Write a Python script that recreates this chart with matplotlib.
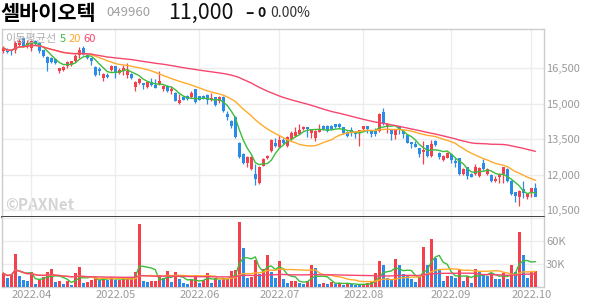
import numpy as np
import pandas as pd
import matplotlib
matplotlib.use("Agg")
import matplotlib.pyplot as plt
from matplotlib.ticker import FuncFormatter

plt.rcParams['font.family'] = ['Noto Sans CJK KR', 'DejaVu Sans']

# --- colours ---
UP = "#f2414d"
DOWN = "#2b8be8"
MA_COLORS = ["#3cbd3c", "#ffaa2b", "#f54670"]
GRID = "#ececec"
TXT = "#9a9a9a"

# --- data ---
holidays = ["2022-05-05", "2022-06-01", "2022-06-06", "2022-08-15",
            "2022-09-09", "2022-09-12", "2022-10-03"]
dates = pd.bdate_range("2022-03-23", "2022-10-05")
dates = dates[~dates.isin(pd.to_datetime(holidays))]

opens = [17230, 17300, 17300, 17300, 17500, 17790, 17440, 17370, 17650, 17580,
         17290, 16990, 16940, 16900, 16380, 16450, 16590, 16660, 16800, 17080,
         17370, 17080, 16940, 16550, 16490, 16100, 16240, 16450, 16590, 16310,
         16380, 16240, 16270, 15720, 15890, 15890, 15720, 15920, 15790, 15820,
         15610, 15750, 15540, 15470, 15040, 15300, 15350, 15280, 15610, 15320,
         15320, 15390, 15140, 15280, 15110, 15300, 14560, 14250, 14460, 13350,
         12860, 12510, 12250, 12040, 11660, 12370, 12720, 13000, 13350, 13170,
         13450, 13210, 13490, 13630, 13730, 13940, 14010, 13780, 13560, 13820,
         14060, 14060, 14060, 14130, 14160, 14010, 13820, 13870, 13820, 13820,
         13920, 14040, 13850, 13850, 13840, 14660, 14060, 13920, 13680, 14010,
         13850, 13680, 13390, 13280, 13110, 12970, 13250, 12790, 13420, 12930,
         12610, 12720, 12890, 12580, 12690, 12020, 12300, 12020, 12020, 11940,
         12470, 12020, 11990, 11710, 11880, 12020, 12230, 11740, 11240, 11030,
         11380, 11030, 11200, 11450]
highs = [17440, 17350, 17330, 17650, 17750, 17850, 17700, 17700, 17700, 17640,
         17300, 17020, 16990, 16950, 16450, 16600, 16800, 16830, 17100, 17400,
         17450, 17150, 16960, 16600, 16550, 16300, 16300, 16650, 16620, 16500,
         16660, 16730, 16300, 15950, 16080, 15900, 15960, 16100, 16070, 16380,
         15800, 15780, 15750, 15500, 15400, 15330, 15380, 15540, 15640, 15350,
         15390, 15420, 15460, 15300, 15340, 15340, 14700, 14300, 14500, 13380,
         12900, 12800, 12780, 12440, 12360, 12700, 12830, 13500, 13560, 13680,
         13560, 13620, 13840, 14010, 14130, 14050, 14030, 13950, 13890, 14130,
         14080, 14100, 14090, 14150, 14190, 14030, 13850, 14010, 13850, 13900,
         14060, 14060, 13870, 13990, 14620, 14800, 14200, 13950, 13900, 14030,
         13870, 13700, 13400, 13420, 13140, 13420, 13270, 13450, 13450, 12960,
         12820, 12960, 12920, 12720, 12720, 12260, 12330, 12050, 12440, 12300,
         12650, 12260, 12020, 11940, 12050, 12330, 12260, 11760, 11260, 11350,
         11730, 11200, 11450, 11660]
lows = [17150, 17150, 17080, 17150, 17400, 17400, 17350, 17220, 17500, 17150,
        16980, 16410, 16730, 16690, 16310, 16400, 16500, 16620, 16750, 16950,
        17050, 16900, 16660, 16180, 16240, 15960, 16100, 16400, 16100, 16280,
        16240, 16100, 16050, 15530, 15850, 15610, 15680, 15760, 15650, 15800,
        15540, 15500, 15400, 15100, 15000, 15150, 15180, 15250, 15050, 15150,
        15200, 14970, 15100, 14900, 15050, 14650, 14330, 13990, 13560, 12700,
        12430, 12300, 12180, 11570, 11620, 12350, 12650, 12950, 13170, 13130,
        13280, 13180, 13450, 13600, 13700, 13900, 13590, 13560, 13420, 13800,
        13900, 13800, 13880, 13990, 13980, 13700, 13600, 13630, 13560, 13210,
        13900, 13780, 13590, 13630, 13800, 14100, 13780, 13450, 13490, 13700,
        13560, 13330, 13140, 13150, 12750, 12460, 12740, 12750, 13200, 12650,
        12580, 12690, 12510, 12330, 12000, 11990, 11800, 11880, 12000, 11900,
        12200, 11990, 11680, 11690, 11660, 11660, 11700, 11140, 10820, 10680,
        10990, 10960, 11060, 11080]
closes = [17370, 17180, 17250, 17580, 17680, 17440, 17580, 17650, 17540, 17230,
          17010, 16730, 16780, 16720, 16520, 16560, 16760, 16800, 17010, 17290,
          17080, 16940, 16800, 16240, 16380, 16270, 16130, 16590, 16310, 16450,
          16520, 16380, 16100, 15920, 16030, 15790, 15920, 15790, 15680, 15960,
          15750, 15540, 15630, 15110, 15180, 15180, 15210, 15470, 15080, 15180,
          15230, 15180, 15250, 14940, 15300, 14700, 14450, 14040, 13590, 12750,
          12470, 12750, 12750, 11800, 12330, 12650, 12790, 13450, 13210, 13450,
          13350, 13590, 13770, 13820, 13870, 14010, 13920, 13890, 13850, 13920,
          13920, 13850, 13920, 14010, 14010, 13780, 13630, 13780, 13730, 13870,
          14040, 13920, 13730, 13730, 14550, 14130, 14130, 13700, 13870, 13870,
          13700, 13350, 13280, 13170, 12890, 13030, 12790, 13280, 13250, 12750,
          12790, 12930, 12610, 12470, 12040, 12230, 11940, 11900, 12330, 12270,
          12230, 12230, 11710, 11810, 12020, 12300, 11740, 11170, 11100, 11310,
          11200, 11170, 11420, 11050]
volumes = [17800, 12200, 16500, 43000, 14300, 9000, 8000, 19100, 3900, 9100,
           13500, 19100, 23500, 7000, 8300, 3900, 7800, 2600, 18700, 25600,
           5700, 7000, 9100, 13500, 9100, 11300, 9100, 13500, 9100, 9500,
           10000, 12200, 12800, 19100, 82000, 7800, 7000, 7800, 8300, 15600,
           11300, 20900, 7000, 19100, 10400, 5700, 3900, 9100, 14800, 5700,
           9100, 17800, 5700, 12200, 9100, 11300, 12000, 20900, 21500, 83900,
           51300, 12200, 13500, 35200, 16500, 23500, 41700, 20000, 12200, 33900,
           10400, 5700, 7800, 8300, 5700, 4300, 7400, 28700, 25000, 3900,
           5500, 3500, 6500, 4500, 5500, 3000, 4500, 3500, 3000, 2500,
           4000, 5000, 6500, 18000, 34000, 29000, 12000, 11000, 37000, 29000,
           17000, 15000, 10000, 6000, 13000, 52600, 28000, 63000, 38000, 24000,
           7800, 14800, 14300, 12000, 22000, 8300, 14800, 4800, 23500, 20000,
           16500, 14800, 18700, 10400, 10000, 18700, 10400, 28700, 19000, 71000,
           41700, 12000, 19000, 20900]

ma_periods = [5, 20, 60]
price_ticks = [10500, 12000, 13500, 15000, 16500]
vol_ticks = [30000, 60000]

# --- derived ---
o = np.array(opens); h = np.array(highs); l = np.array(lows); c = np.array(closes)
v = np.array(volumes)
x = np.arange(len(dates))
candle_col = np.where(c >= o, UP, DOWN)
vol_col = np.where(np.r_[True, v[1:] > v[:-1]], UP, DOWN)

s = pd.Series(x, index=dates)
firsts = s.groupby(dates.to_period("M")).first()
tick_pos = firsts.values[1:]
tick_lab = [p.strftime("%Y.%m") for p in firsts.index[1:]]

W, H = 594, 304
fig = plt.figure(figsize=(W / 100, H / 100), dpi=100)
ax = fig.add_axes([2 / W, 1 - 217 / H, 542 / W, 188 / H])
axv = fig.add_axes([2 / W, 1 - 287 / H, 542 / W, 70 / H], sharex=ax)

# candles
ax.vlines(x, l, h, colors=candle_col, linewidth=0.9, zorder=3)
body = np.maximum(np.abs(c - o), 25)
ax.bar(x, body, bottom=np.minimum(o, c), width=0.72, color=candle_col, zorder=3)
for p, col in zip(ma_periods, MA_COLORS):
    ax.plot(x, pd.Series(c).rolling(p, min_periods=1).mean(), color=col, lw=1.0, zorder=4)

# volume
axv.bar(x, v, width=0.72, color=vol_col, zorder=3)
for p, col in zip(ma_periods, MA_COLORS):
    axv.plot(x, pd.Series(v).rolling(p, min_periods=1).mean(), color=col, lw=1.0, zorder=4)

for a in (ax, axv):
    a.set_xlim(-0.33, 135.2)
    a.set_xticks(tick_pos)
    a.grid(True, color=GRID, lw=1.0, zorder=0)
    a.yaxis.tick_right()
    a.tick_params(length=0, labelsize=8, labelcolor=TXT, pad=1.5)
    for sp in a.spines.values():
        sp.set_color("#cccccc")
        sp.set_linewidth(1.0)

ax.set_ylim(10200, 18170)
ax.set_yticks(price_ticks)
ax.yaxis.set_major_formatter(FuncFormatter(lambda val, _: f"{val:,.0f}"))
ax.tick_params(labelbottom=False)
ax.spines["bottom"].set_color("#333333")
ax.spines["bottom"].set_linewidth(1.3)
axv.spines["top"].set_visible(False)

axv.set_ylim(0, 91000)
axv.set_yticks(vol_ticks + [90000])
axv.set_yticklabels([f"{t // 1000}K" for t in vol_ticks] + [""])
axv.set_xticklabels(tick_lab)
axv.tick_params(axis="x", pad=2)

# legend and watermark
ax.text(0.006, 0.945, "이동평균선", transform=ax.transAxes, color="#b0b0b0",
        fontsize=8, va="center", ha="left", zorder=5)
for lab, xp, col in zip(["5", "20", "60"], [0.107, 0.122, 0.151], MA_COLORS):
    ax.text(xp, 0.945, lab, transform=ax.transAxes, color=col, fontsize=8,
            va="center", ha="left", zorder=5)
ax.text(0.006, 0.065, "©PAXNet", transform=ax.transAxes, color="#d4d4d4",
        fontsize=11, fontweight="bold", va="center", ha="left", zorder=1)

# header
fig.text(0 / W, 1 - 14 / H, "셀바이오텍", fontsize=15, fontweight="bold", va="center", ha="left")
fig.text(106 / W, 1 - 13 / H, "049960", fontsize=9.5, color="#a0a0a0", va="center", ha="left")
fig.text(168 / W, 1 - 13 / H, "11,000", fontsize=15.5, color="#111111", va="center", ha="left")
fig.text(245 / W, 1 - 13 / H, "–", fontsize=11, fontweight="bold", color="#111111", va="center", ha="left")
fig.text(257 / W, 1 - 13 / H, "0", fontsize=10, fontweight="bold", color="#111111", va="center", ha="left")
fig.text(270 / W, 1 - 13 / H, "0.00%", fontsize=10, color="#333333", va="center", ha="left")

fig.savefig("out.png", dpi=100)
